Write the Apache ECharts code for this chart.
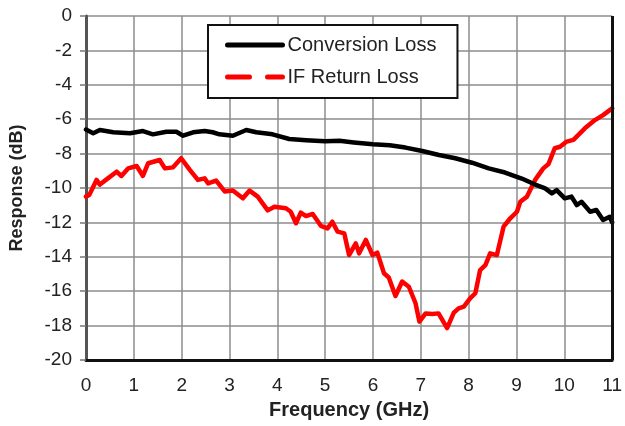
<!DOCTYPE html>
<html>
<head>
<meta charset="utf-8">
<script src="https://cdn.jsdelivr.net/npm/echarts@6/dist/echarts.min.js"></script>
<style>
  html, body { margin: 0; padding: 0; background: #fff; }
  #chart { width: 625px; height: 426px; }
</style>
</head>
<body>
<div id="chart"></div>
<script>
// Conversion loss (dB) vs IF frequency (GHz)
var convFreq = [0.0, 0.15, 0.29, 0.57, 0.92, 1.19, 1.4, 1.68, 1.89, 2.03, 2.24, 2.48, 2.65, 2.79,
  3.07, 3.35, 3.56, 3.9, 4.25, 4.6, 5.0, 5.3, 5.6, 6.0, 6.35, 6.68, 7.03, 7.38, 7.72, 8.07,
  8.42, 8.76, 9.11, 9.39, 9.6, 9.74, 9.84, 10.01, 10.15, 10.26, 10.36, 10.54, 10.67, 10.81, 10.95, 11.0];
var convLoss = [-6.6, -6.82, -6.63, -6.76, -6.82, -6.69, -6.88, -6.73, -6.73, -6.96, -6.76, -6.69, -6.76, -6.88,
  -6.96, -6.63, -6.76, -6.88, -7.15, -7.22, -7.28, -7.25, -7.35, -7.46, -7.52, -7.65, -7.85, -8.08, -8.27, -8.53,
  -8.86, -9.1, -9.45, -9.8, -10.02, -10.31, -10.12, -10.6, -10.5, -10.99, -10.8, -11.38, -11.28, -11.86, -11.67, -12.0];

// IF return loss (dB) vs IF frequency (GHz)
var rlFreq = [0.0, 0.07, 0.22, 0.29, 0.43, 0.64, 0.74, 0.88, 1.06, 1.19, 1.3, 1.54, 1.65, 1.82, 1.99,
  2.17, 2.34, 2.48, 2.55, 2.72, 2.9, 3.07, 3.28, 3.42, 3.59, 3.8, 3.94, 4.18, 4.28, 4.39, 4.49,
  4.6, 4.74, 4.91, 5.05, 5.15, 5.26, 5.4, 5.5, 5.64, 5.71, 5.85, 5.99, 6.09, 6.23, 6.33, 6.47,
  6.61, 6.75, 6.89, 6.97, 7.1, 7.24, 7.37, 7.55, 7.69, 7.79, 7.9, 8.03, 8.14, 8.24, 8.35, 8.45,
  8.59, 8.73, 8.87, 9.01, 9.08, 9.22, 9.39, 9.56, 9.67, 9.8, 9.91, 10.05, 10.19, 10.43, 10.64, 10.81, 11.0];
var rlLoss = [-10.5, -10.4, -9.53, -9.8, -9.5, -9.05, -9.3, -8.86, -8.72, -9.3, -8.56, -8.37, -8.86, -8.8, -8.27,
  -8.95, -9.53, -9.44, -9.73, -9.57, -10.2, -10.15, -10.6, -10.15, -10.5, -11.3, -11.09, -11.18, -11.38, -12.05, -11.43,
  -11.63, -11.51, -12.2, -12.35, -11.96, -12.54, -12.64, -13.9, -13.22, -13.8, -13.02, -13.9, -13.76, -14.96, -15.2, -16.28,
  -15.44, -15.74, -16.7, -17.77, -17.29, -17.33, -17.29, -18.15, -17.25, -17.0, -16.9, -16.42, -16.12, -14.77, -14.48, -13.8,
  -13.9, -12.25, -11.76, -11.38, -10.8, -10.5, -9.53, -8.86, -8.6, -7.69, -7.6, -7.3, -7.2, -6.53, -6.05, -5.76, -5.37];

var seriesNames = ['Conversion Loss', 'IF Return Loss'];
var xTitle = 'Frequency (GHz)';
var yTitle = 'Response (dB)';

function pairs(xs, ys) {
  return xs.map(function (x, i) { return [x, ys[i]]; });
}

var font = 'Liberation Sans, Arial, sans-serif';
var chart = echarts.init(document.getElementById('chart'), null, { renderer: 'canvas' });

chart.setOption({
  animation: false,
  backgroundColor: '#fff',
  grid: { left: 86, top: 16, right: 11, bottom: 66, containLabel: false },
  legend: {
    show: true,
    orient: 'vertical',
    left: 208,
    top: 25,
    padding: [10, 21, 11, 17],
    itemGap: 12,
    itemWidth: 55,
    itemHeight: 14,
    backgroundColor: '#fff',
    borderColor: '#111',
    borderWidth: 2,
    itemStyle: { opacity: 0 },
    lineStyle: { width: 5 },
    textStyle: { fontFamily: font, fontSize: 20, color: '#222' },
    data: [
      { name: seriesNames[0] },
      { name: seriesNames[1], lineStyle: { width: 5, type: [22, 18] } }
    ]
  },
  xAxis: {
    type: 'value',
    min: 0, max: 11, interval: 1,
    name: xTitle,
    nameLocation: 'middle',
    nameGap: 40,
    nameTextStyle: { fontFamily: font, fontSize: 20, fontWeight: 'bold', color: '#222' },
    axisLine: { show: true, onZero: false, lineStyle: { color: '#111', width: 3 } },
    axisTick: { show: false },
    axisLabel: { margin: 16, fontFamily: font, fontSize: 19, color: '#222' },
    splitLine: { show: true, lineStyle: { color: '#8c8c8c', width: 1.5 } }
  },
  yAxis: {
    type: 'value',
    min: -20, max: 0, interval: 2,
    name: yTitle,
    nameLocation: 'middle',
    nameGap: 60,
    nameTextStyle: { fontFamily: font, fontSize: 18, fontWeight: 'bold', color: '#222' },
    axisLine: { show: true, onZero: false, lineStyle: { color: '#555', width: 3 } },
    axisTick: { show: true, inside: false, length: 6, lineStyle: { color: '#777', width: 1.5 } },
    axisLabel: { margin: 14, fontFamily: font, fontSize: 19, color: '#222' },
    splitLine: { show: true, lineStyle: { color: '#8c8c8c', width: 1.5 } }
  },
  series: [
    {
      name: seriesNames[0],
      type: 'line',
      data: pairs(convFreq, convLoss),
      showSymbol: false,
      symbol: 'none',
      color: '#000',
      lineStyle: { color: '#000', width: 4.5, join: 'round', cap: 'round' },
      z: 3
    },
    {
      name: seriesNames[1],
      type: 'line',
      data: pairs(rlFreq, rlLoss),
      showSymbol: false,
      symbol: 'none',
      color: '#ff0000',
      lineStyle: { color: '#ff0000', width: 4.5, join: 'round', cap: 'round' },
      z: 2,
      // right-hand frame edge
      markLine: {
        silent: true,
        symbol: 'none',
        label: { show: false },
        lineStyle: { color: '#111', width: 3, type: 'solid' },
        data: [{ xAxis: 11 }]
      }
    }
  ]
});
</script>
</body>
</html>
